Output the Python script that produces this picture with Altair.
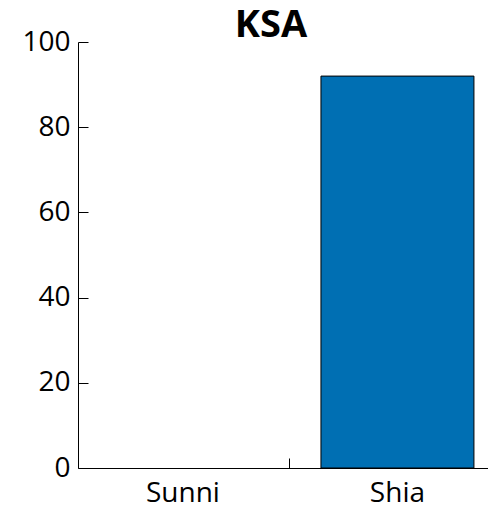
import altair as alt
import pandas as pd

categories = ["Sunni", "Shia"]
values = [0, 92]
y_ticks = [0, 20, 40, 60, 80, 100]
title_text = "KSA"

df = pd.DataFrame({"sect": categories, "value": values})
title_df = pd.DataFrame({"t": [title_text]})

FONT = "Open Sans"

bars = alt.Chart(df).mark_bar(
    color="#006fb3", stroke="black", strokeWidth=1
).encode(
    x=alt.X(
        "sect:N",
        sort=categories,
        title=None,
        scale=alt.Scale(paddingInner=0.287, paddingOuter=0.099, align=0.669),
        axis=alt.Axis(
            labelAngle=0, labelFont=FONT, labelFontSize=28, labelColor="black",
            domainColor="black", tickColor="black", tickSize=alt.ExprRef("-10"),
            labelPadding=21, bandPosition=1.2, grid=False,
        ),
    ),
    y=alt.Y(
        "value:Q",
        title=None,
        scale=alt.Scale(domain=[0, 100], nice=False),
        axis=alt.Axis(
            values=y_ticks, labelFont=FONT, labelFontSize=28, labelColor="black",
            domainColor="black", tickColor="black", tickSize=alt.ExprRef("-10"),
            labelPadding=18, grid=False,
        ),
    ),
    strokeOpacity=alt.condition(alt.datum.value > 0, alt.value(1), alt.value(0)),
)

title = alt.Chart(title_df).mark_text(
    font=FONT, fontSize=38, fontWeight="bold", color="black",
    align="center", baseline="alphabetic",
).encode(
    text="t:N",
    x=alt.value(193),
    y=alt.value(-5),
)

chart = alt.layer(bars, title).properties(
    width=410,
    height=426,
    autosize=alt.AutoSizeParams(type="none"),
    padding={"left": 70, "top": 34, "right": 0, "bottom": 42},
).configure_view(stroke=None)

chart.save("out.html", embed_options={"renderer": "svg", "actions": False})
